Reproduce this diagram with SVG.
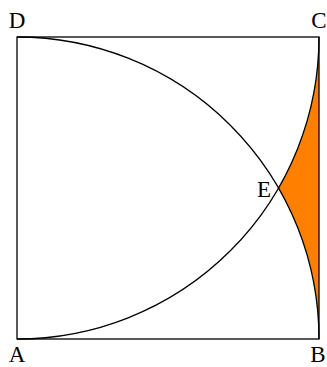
<svg xmlns="http://www.w3.org/2000/svg" width="327" height="367" viewBox="0 0 327 367">
<style>
.ln{fill:none;stroke:#000;stroke-width:1.3}
.lb{font-family:"Liberation Serif","DejaVu Serif",serif;font-size:23px;fill:#000}
</style>
<rect width="327" height="367" fill="#fff"/>
<g id="shade">
<path d="M278.5 188 A302 302 0 0 0 319 37 L319 339 A302 302 0 0 0 278.5 188 Z" fill="#ff8000" stroke="none"/>
</g>
<g id="connectors">
<rect class="ln" x="17" y="37" width="302" height="302"/>
<path class="ln" d="M17 37 A302 302 0 0 1 319 339"/>
<path class="ln" d="M17 339 A302 302 0 0 0 319 37"/>
</g>
<g id="D"><text class="lb" x="17" y="28" text-anchor="middle">D</text></g>
<g id="C"><text class="lb" x="319" y="28" text-anchor="middle">C</text></g>
<g id="A"><text class="lb" x="17" y="362" text-anchor="middle">A</text></g>
<g id="B"><text class="lb" x="318" y="362" text-anchor="middle">B</text></g>
<g id="E"><text class="lb" x="271" y="197" text-anchor="end">E</text></g>
</svg>
